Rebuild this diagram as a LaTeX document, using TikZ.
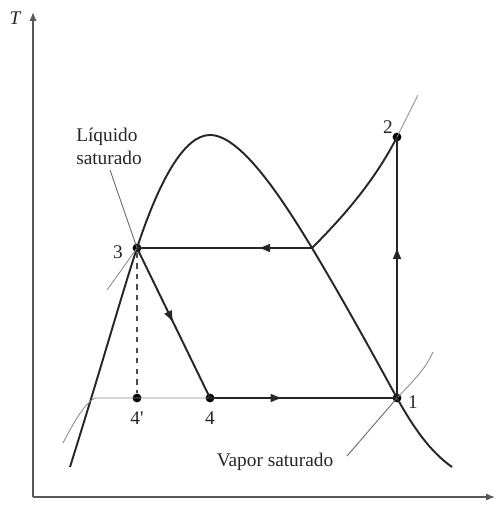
\documentclass[tikz,border=0pt]{standalone}
\usepackage{fontspec}
\setmainfont{Liberation Serif}
\usetikzlibrary{arrows.meta, decorations.markings}

\begin{document}
\begin{tikzpicture}[
    x=0.02cm, y=-0.02cm,
    axis/.style={line width=0.8pt, draw=black!65, -{Latex[length=5pt, width=4pt]}},
    dome/.style={line width=1.1pt, draw=black!85},
    proc/.style={line width=1.1pt, draw=black!85},
    iso/.style={line width=0.5pt, draw=black!45},
    lead/.style={line width=0.5pt, draw=black!60},
    midarr/.style={postaction={decorate}, decoration={markings,
        mark=at position #1 with {\arrow{Latex[length=7pt, width=5pt]}}}},
    dot/.style={circle, fill=black, inner sep=0pt, minimum size=5pt},
    lbl/.style={font=\fontsize{11}{13}\selectfont, text=black!85},
]
\useasboundingbox (0,0) rectangle (495,519);

% --- axes ---
\coordinate (O) at (33,497);
\coordinate (Ttop) at (33,12);
\coordinate (sright) at (495,497);
\draw [axis] (O) -- (Ttop);
\draw [axis] (O) -- (sright);
\node [lbl, font=\fontsize{11}{13}\selectfont\itshape] at (15,18) {T};

% --- state points ---
\node (p1)  [dot] at (397,398) {};
\node (p2)  [dot] at (397,137) {};
\node (p3)  [dot] at (137,248) {};
\node (p4)  [dot] at (210,398) {};
\node (p4p) [dot] at (137,398) {};
\coordinate (c) at (312,248);

% --- saturation dome ---
\draw [dome] (70,467) .. controls (105,355) and (120,300) .. (p3.center)
    .. controls (160,178) and (185,135) .. (210,135)
    .. controls (240,135) and (280,195) .. (c)
    .. controls (345,303) and (375,358) .. (p1.center)
    .. controls (418,436) and (435,455) .. (452,467);

% --- isobars (thin) ---
\draw [iso] (63,443) .. controls (75,420) and (85,403) .. (95,398) -- (p4p.center) -- (p4.center);
\draw [iso] (107,290) .. controls (120,272) .. (p3.center);
\draw [iso] (p1.center) .. controls (412,382) and (425,370) .. (433,352);
\draw [iso] (p2.center) -- (418,95);

% --- cycle ---
\draw [proc, midarr=0.58] (p1.center) -- (p2.center);
\draw [proc] (c) .. controls (345,215) and (375,180) .. (p2.center);
\draw [proc, midarr=0.31] (c) -- (p3.center);
\draw [proc, midarr=0.5] (p3.center) -- (p4.center);
\draw [proc, midarr=0.39] (p4.center) -- (p1.center);
\draw [line width=0.7pt, dashed, draw=black!70] (p3) -- (p4p);

% --- labels ---
\node [lbl] at (388,127) {2};
\node [lbl] at (118,252) {3};
\node [lbl] at (413,402) {1};
\node [lbl] at (137,418) {4\textquotesingle};
\node [lbl] at (210,418) {4};

\node (liq) [lbl, align=left, inner sep=0pt] at (109,146) {Líquido\\saturado};
\node (vap) [lbl, inner sep=0pt] at (275,462) {Vapor saturado};
\draw [lead] (110,170) -- (p3.center);
\draw [lead] (347,456) -- (p1.center);

\end{tikzpicture}
\end{document}
